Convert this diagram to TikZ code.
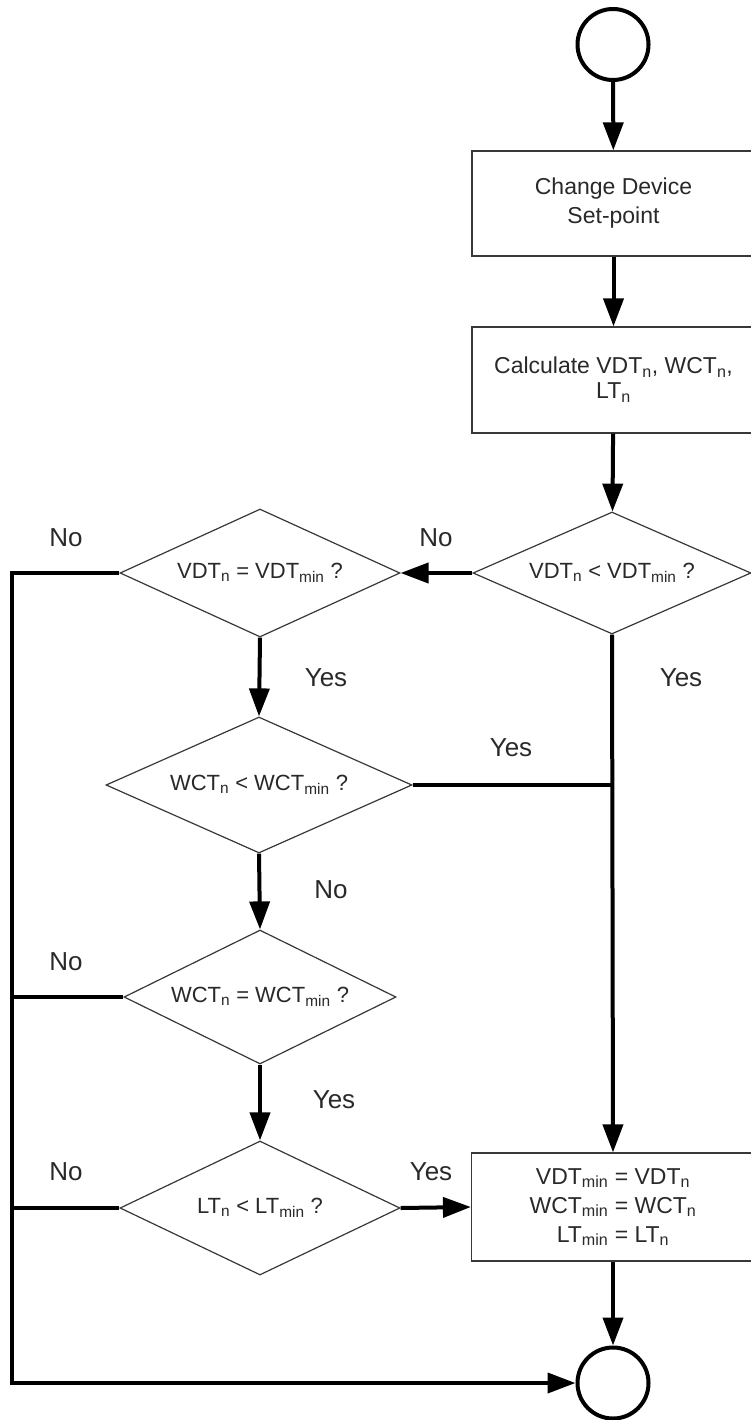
\documentclass[tikz,border=0pt]{standalone}
\usepackage{fontspec}
\setmainfont{Liberation Sans}
\usetikzlibrary{shapes.geometric,arrows.meta}
\definecolor{txt}{gray}{0.16}
\definecolor{boxc}{gray}{0.22}
\newcommand\boxfont{\fontsize{23}{29}\selectfont}
\newcommand\dfont{\fontsize{22}{28}\selectfont}
\newcommand\lblfont{\fontsize{26}{30}\selectfont}
\begin{document}
\begin{tikzpicture}[x=1pt,y=-1pt,
  flow/.style={line width=4pt,-{Triangle[length=28pt,width=20pt]}},
  link/.style={line width=4pt},
  proc/.style={rectangle,draw=boxc,line width=1.2pt,fill=white,text=txt,
    minimum width=283pt,inner sep=0pt,align=center,font=\boxfont},
  decision/.style={diamond,aspect=2.4,draw=boxc,line width=1.2pt,fill=white,text=txt,
    inner sep=0pt,font=\dfont},
  terminal/.style={circle,draw=black,line width=4pt,minimum size=71pt,inner sep=0pt},
  lbl/.style={text=txt,font=\lblfont,inner sep=0pt}
]
\useasboundingbox (0,0) rectangle (751,1420);
\clip (0,0) rectangle (751,1420);

% terminals
\node[terminal] (t0) at (613,44.5) {};
\node[terminal] (t1) at (613,1383) {};

% process boxes
\node[proc,minimum height=105pt] (b1) at (613.5,203.5) {Change Device\\Set-point};
\node[proc,minimum height=106pt] (b2) at (613.5,380) {Calculate VDT\textsubscript{n}, WCT\textsubscript{n},\\[-4pt]LT\textsubscript{n}};
\node[proc,minimum height=108pt] (b3) at (613,1207) {VDT\textsubscript{min} = VDT\textsubscript{n}\\WCT\textsubscript{min} = WCT\textsubscript{n}\\LT\textsubscript{min} = LT\textsubscript{n}};

% decisions
\node[decision,minimum width=278pt,minimum height=122pt] (dA) at (612,573) {VDT\textsubscript{n} < VDT\textsubscript{min} ?};
\node[decision,minimum width=280pt,minimum height=128pt] (dB) at (260,573) {VDT\textsubscript{n} = VDT\textsubscript{min} ?};
\node[decision,minimum width=306pt,minimum height=136pt] (dC) at (259,785) {WCT\textsubscript{n} < WCT\textsubscript{min} ?};
\node[decision,minimum width=272pt,minimum height=134pt] (dD) at (260,997) {WCT\textsubscript{n} = WCT\textsubscript{min} ?};
\node[decision,minimum width=280pt,minimum height=134pt] (dE) at (260,1208) {LT\textsubscript{n} < LT\textsubscript{min} ?};

% rail on the left
\coordinate (rtop) at (12,573);
\coordinate (rbot) at (12,1383);

% connectors
\draw[flow] (t0) -- (b1);
\draw[flow] (b1) -- (b2);
\draw[flow] (b2) -- (dA);
\draw[flow] (dA.west) -- (dB.east);
\draw[flow] (dA.south) -- (b3.north);
\draw[flow] (dB.south) -- (dC.north);
\draw[link] (dC.east) -- (dC.east -| dA.south);
\draw[flow] (dC.south) -- (dD.north);
\draw[flow] (dD.south) -- (dE.north);
\draw[flow] (dE.east) -- (b3.west);
\draw[flow] (b3) -- (t1);
\draw[flow] (dB.west) -- (rtop) -- (rbot) -- (t1.west);
\draw[link] (dD.west) -- (dD.west -| rtop);
\draw[link] (dE.west) -- (dE.west -| rtop);

% branch labels
\node[lbl] (nA) at (436,538) {No};
\node[lbl] (yA) at (681,678) {Yes};
\node[lbl] (nB) at (66,538) {No};
\node[lbl] (yB) at (326,678) {Yes};
\node[lbl] (yC) at (511,748) {Yes};
\node[lbl] (nC) at (331,890) {No};
\node[lbl] (nD) at (66,962) {No};
\node[lbl] (yD) at (334,1100) {Yes};
\node[lbl] (nE) at (66,1172) {No};
\node[lbl] (yE) at (431,1172) {Yes};
\end{tikzpicture}
\end{document}
